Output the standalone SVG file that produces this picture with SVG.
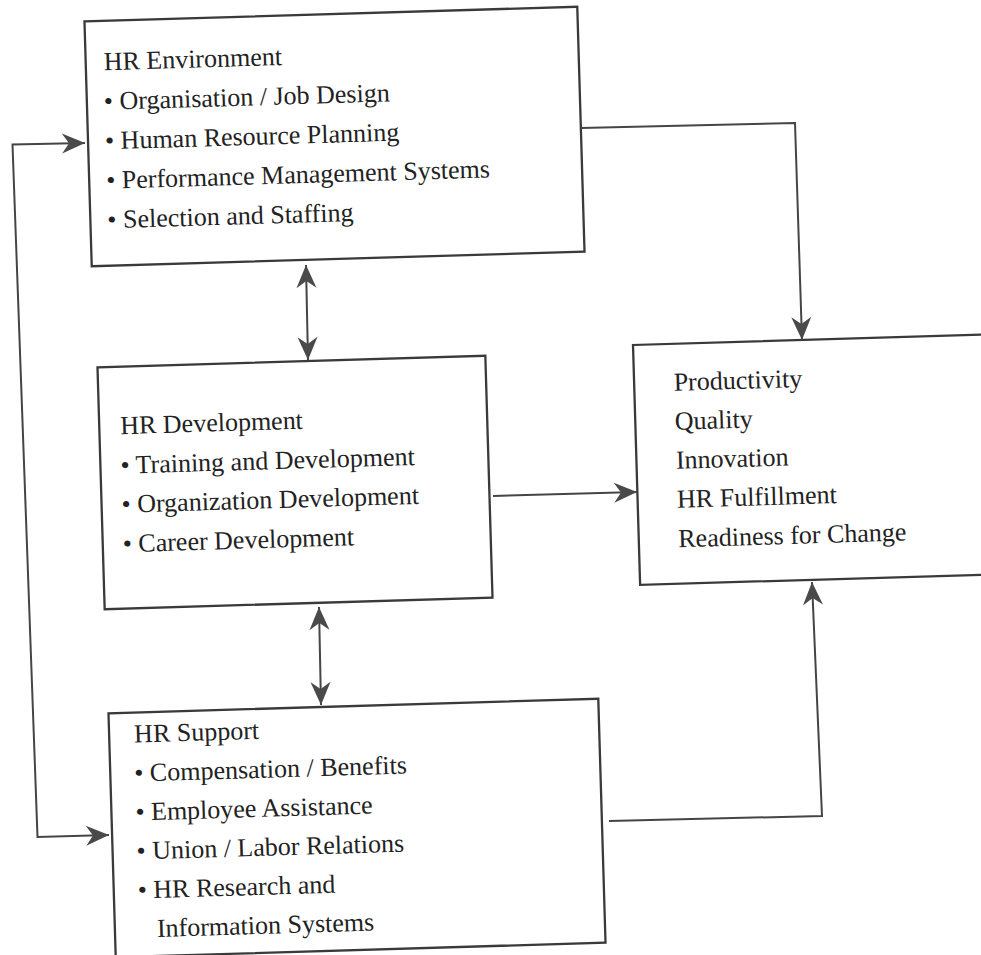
<svg xmlns="http://www.w3.org/2000/svg" width="981" height="955" viewBox="0 0 981 955">
<defs>
<style>
.box{fill:#fff;stroke:#3a3a3a;stroke-width:2.3}
.t{font-family:"Liberation Serif","Times New Roman",serif;font-size:26px;fill:#222}
.c{fill:none;stroke:#454545;stroke-width:2}
</style>
<marker id="ah" viewBox="-25 -11 26 22" refX="0" refY="0" markerWidth="26" markerHeight="22" markerUnits="userSpaceOnUse" orient="auto-start-reverse">
<path d="M0,0 L-23,-10 L-16,0 L-23,10 Z" fill="#4a4a4a"/>
</marker>
</defs>
<rect width="981" height="955" fill="#fff"/>

<g id="hr-environment" transform="rotate(-1.7 334.5 136.5)">
<rect class="box" x="88" y="14" width="493" height="245"/>
<text class="t" x="106" y="63.5">HR Environment</text>
<text class="t" x="105" y="103">• Organisation / Job Design</text>
<text class="t" x="105" y="142.5">• Human Resource Planning</text>
<text class="t" x="105" y="182">• Performance Management Systems</text>
<text class="t" x="105" y="221.5">• Selection and Staffing</text>
</g>

<g id="hr-development" transform="rotate(-1.7 295 482.5)">
<rect class="box" x="101" y="361.5" width="388" height="242"/>
<text class="t" x="122" y="429">HR Development</text>
<text class="t" x="121" y="468.5">• Training and Development</text>
<text class="t" x="121" y="507.5">• Organization Development</text>
<text class="t" x="121" y="547">• Career Development</text>
</g>

<g id="hr-support" transform="rotate(-1.7 357 828)">
<rect class="box" x="112" y="706" width="490" height="244"/>
<text class="t" x="137" y="736">HR Support</text>
<text class="t" x="136" y="775">• Compensation / Benefits</text>
<text class="t" x="136" y="814">• Employee Assistance</text>
<text class="t" x="136" y="853">• Union / Labor Relations</text>
<text class="t" x="136" y="892">• HR Research and</text>
<text class="t" x="154" y="931">Information Systems</text>
</g>

<g id="outcomes" transform="rotate(-1.7 633 345)">
<rect class="box" x="633" y="345" width="370" height="240"/>
<text class="t" x="672.5" y="392">Productivity</text>
<text class="t" x="672.5" y="431">Quality</text>
<text class="t" x="672.5" y="470">Innovation</text>
<text class="t" x="672.5" y="509">HR Fulfillment</text>
<text class="t" x="672.5" y="548.5">Readiness for Change</text>
</g>

<g id="connectors">
<path class="c" d="M85,143 L12.5,144.5 L37.5,837 L109,835" marker-start="url(#ah)" marker-end="url(#ah)"/>
<path class="c" d="M306,265 L308,360" marker-start="url(#ah)" marker-end="url(#ah)"/>
<path class="c" d="M319,607 L321,705" marker-start="url(#ah)" marker-end="url(#ah)"/>
<path class="c" d="M581,128 L795,123 L802,340" marker-end="url(#ah)"/>
<path class="c" d="M493,496 L637,492" marker-end="url(#ah)"/>
<path class="c" d="M609,821 L822,816 L812,582" marker-end="url(#ah)"/>
</g>
</svg>
